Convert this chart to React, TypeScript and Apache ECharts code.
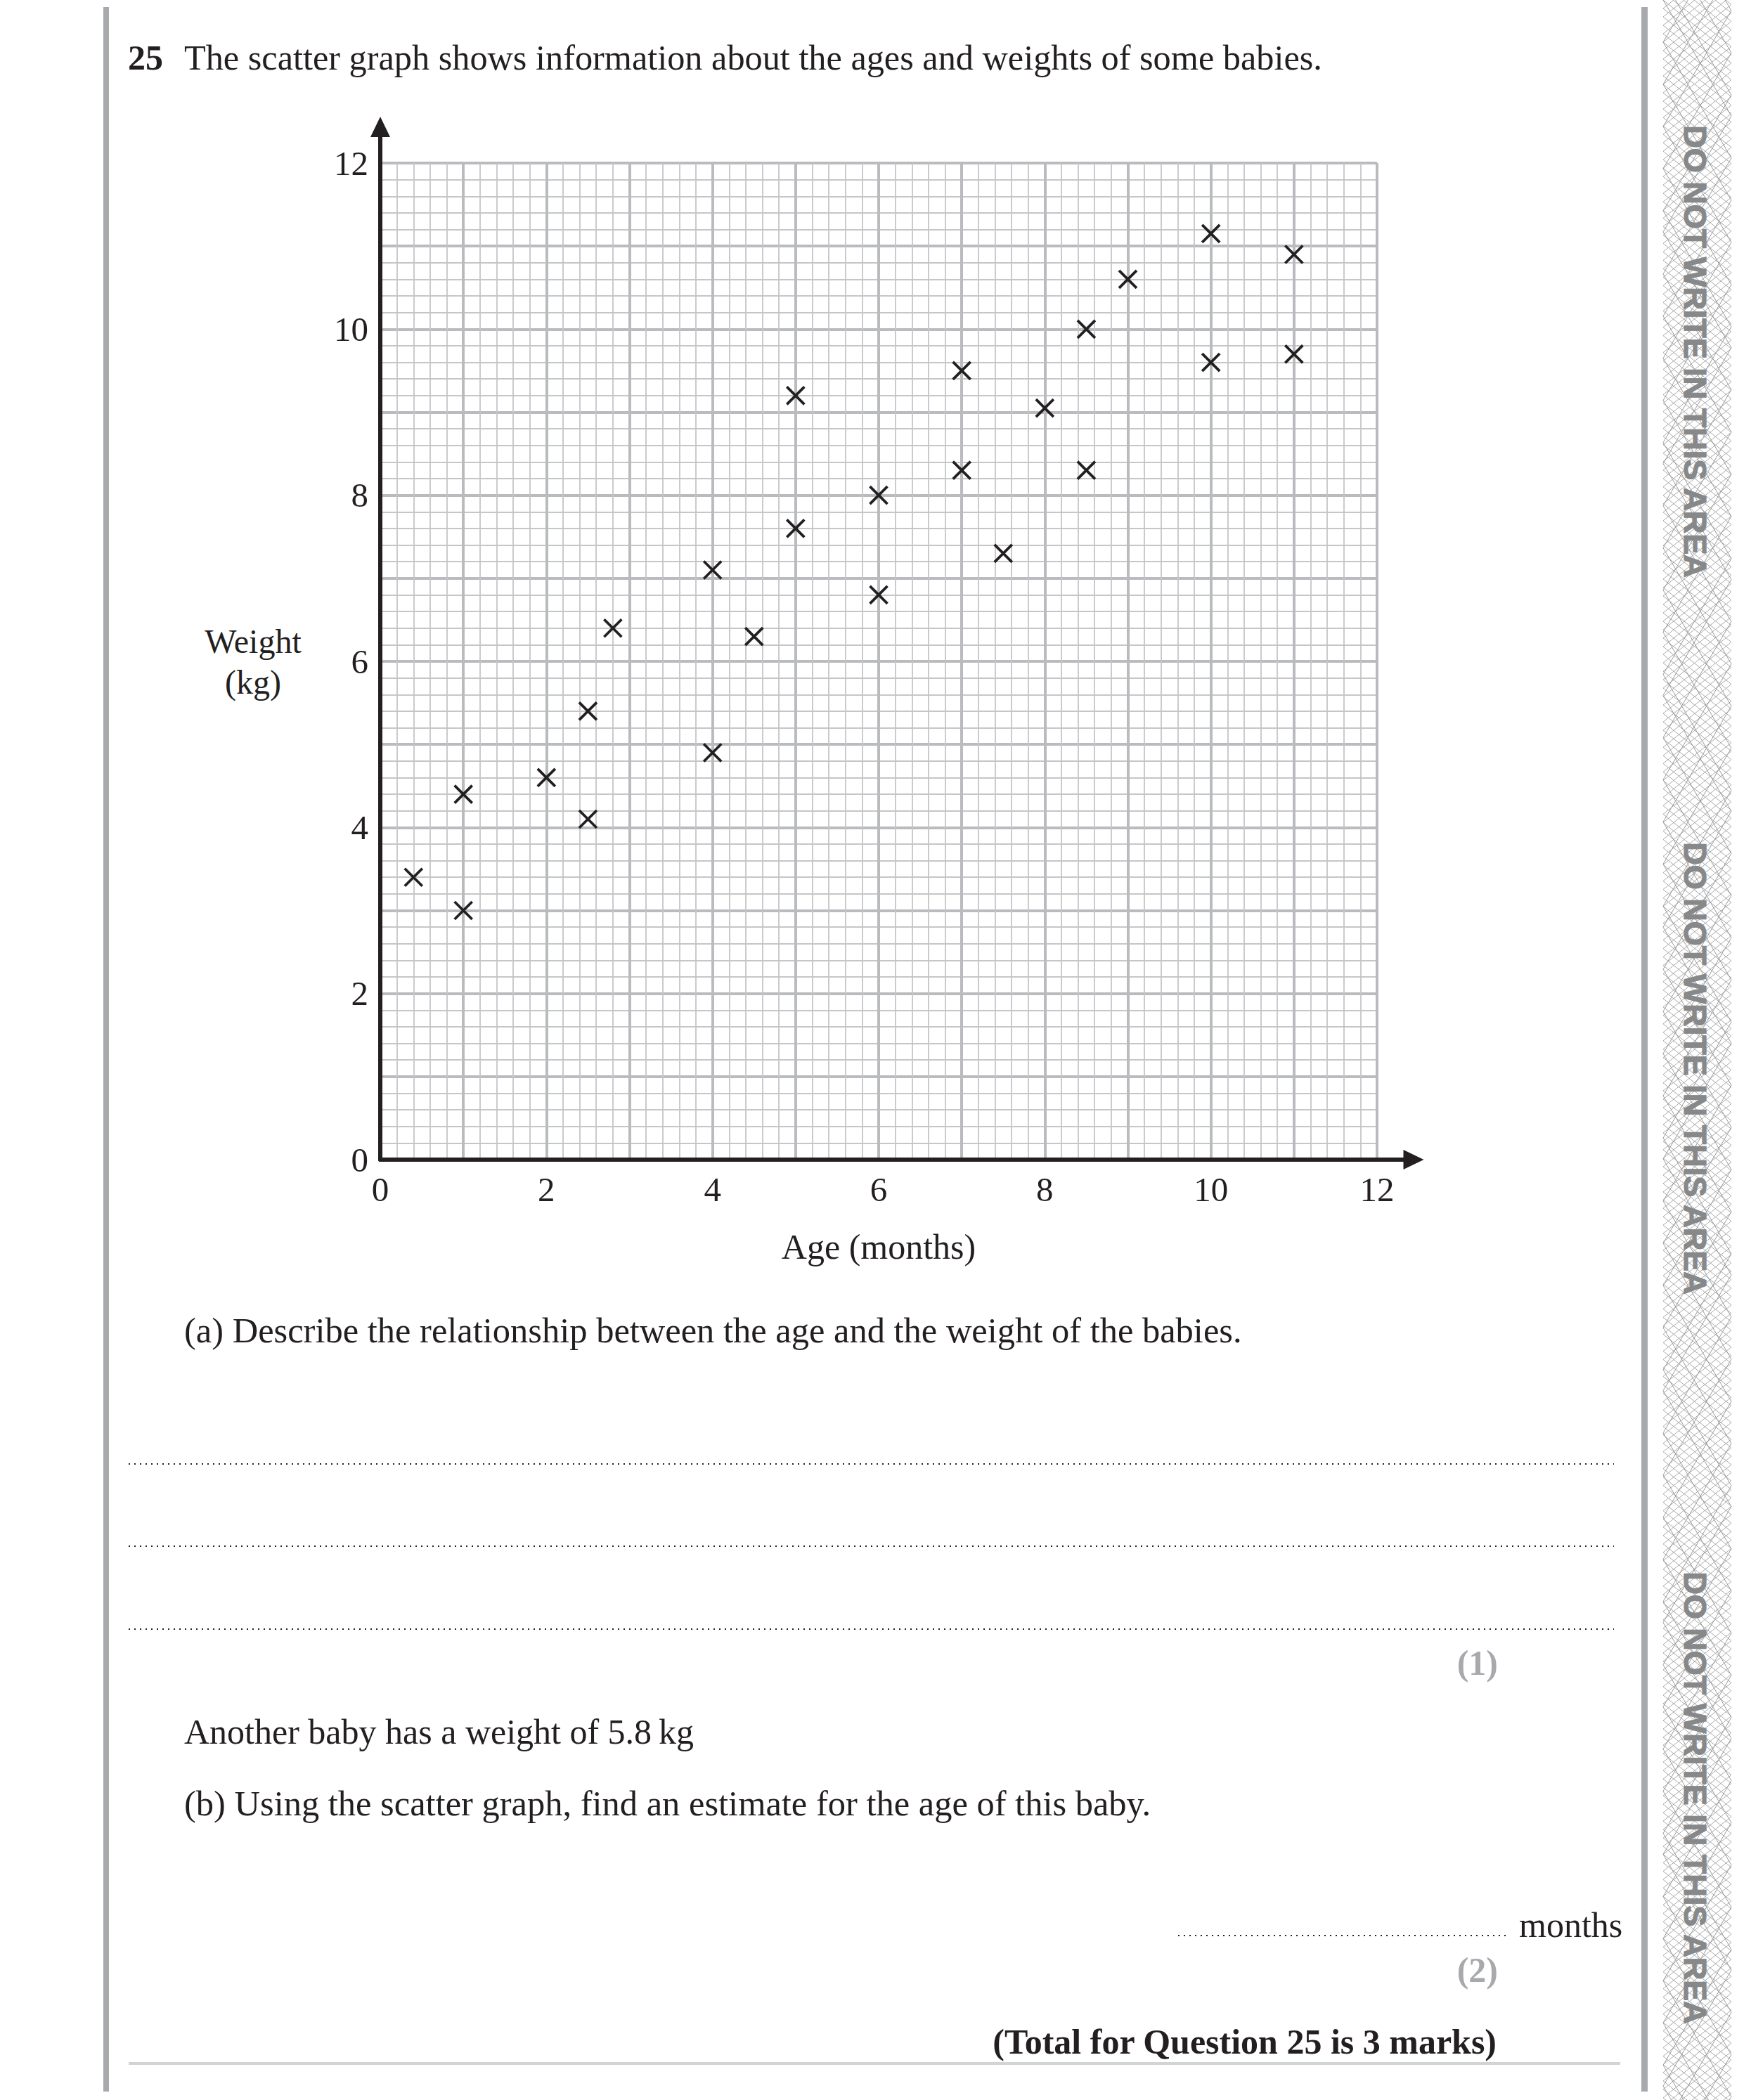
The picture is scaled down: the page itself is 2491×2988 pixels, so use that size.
import React, { useEffect, useRef } from "react";
import * as echarts from "echarts";

// ---------- data ----------
const ages = [0.4, 1, 1, 2, 2.5, 2.5, 2.8, 4, 4, 4.5, 5, 5, 6, 6, 7, 7, 7.5, 8, 8.5, 8.5, 9, 10, 10, 11, 11];
const weights = [3.4, 4.4, 3.0, 4.6, 5.4, 4.1, 6.4, 7.1, 4.9, 6.3, 9.2, 7.6, 8.0, 6.8, 9.5, 8.3, 7.3, 9.05, 10.0, 8.3, 10.6, 11.15, 9.6, 10.9, 9.7];
const xTickLabels = [0, 2, 4, 6, 8, 10, 12];
const yTickLabels = [0, 2, 4, 6, 8, 10, 12];

const xAxisName = "Age (months)";
const yAxisName = "Weight\n(kg)";
const questionNumber = "25";
const questionText = "The scatter graph shows information about the ages and weights of some babies.";
const partAText = "(a) Describe the relationship between the age and the weight of the babies.";
const mark1 = "(1)";
const anotherText = "Another baby has a weight of 5.8\u2009kg";
const partBText = "(b) Using the scatter graph, find an estimate for the age of this baby.";
const unitText = "months";
const mark2 = "(2)";
const totalText = "(Total for Question 25 is 3 marks)";
const marginText = "DO NOT WRITE IN THIS AREA";

const INK = "#231f20";
const SERIF = "'Liberation Serif', 'Times New Roman', serif";

function hatch(x0: number, x1: number, slope: number, spacing: number, color: string, width: number) {
  const W = x1 - x0;
  const h = W * slope;
  const out: any[] = [];
  for (let y0 = -2 * h; y0 < 0; y0 += spacing) {
    const pts: number[][] = [];
    let y = y0;
    let left = true;
    while (y < 3000 + 2 * h) {
      pts.push([left ? x0 : x1, y]);
      y += h;
      left = !left;
    }
    out.push({ type: "polyline", silent: true, shape: { points: pts }, style: { stroke: color, lineWidth: width, fill: null } });
  }
  return out;
}

function txt(text: string, x: number, y: number, opts: any = {}) {
  const align = opts.align || "left";
  return {
    type: "text",
    x,
    y,
    rotation: opts.rotation || 0,
    silent: true,
    style: {
      text,
      fill: opts.fill || INK,
      stroke: opts.stroke,
      lineWidth: opts.lineWidth || 0,
      fontFamily: opts.fontFamily || SERIF,
      fontSize: opts.fontSize || 50,
      fontWeight: opts.fontWeight || "normal",
      align,
      textAlign: align,
      verticalAlign: "middle",
      textVerticalAlign: "middle",
    },
  };
}

function dotted(x1: number, x2: number, y: number) {
  return {
    type: "line",
    silent: true,
    shape: { x1, y1: y, x2, y2: y },
    style: { stroke: INK, lineWidth: 2, lineDash: [2, 6] },
  };
}

const arrowY = "path://M14,0 L28,29 L17,29 L17,66 L11,66 L11,29 L0,29 Z";

const marginStyle = {
  rotation: -Math.PI / 2,
  align: "center",
  fill: "#868889",
  stroke: "#868889",
  lineWidth: 1.2,
  fontFamily: "'Liberation Sans', Arial, sans-serif",
  fontWeight: "bold",
  fontSize: 45,
};

export default function App() {
  const ref = useRef<HTMLDivElement>(null);
  useEffect(() => {
    if (!ref.current) return;
    const chart = echarts.init(ref.current, null, { renderer: "svg" });
    const data = ages.map((a, i) => [a, weights[i]]);

    const graphics: any[] = [
      { type: "rect", silent: true, shape: { x: 147, y: 10, width: 8, height: 2966 }, style: { fill: "#a7a9ac" } },
      { type: "rect", silent: true, shape: { x: 2335, y: 10, width: 9, height: 2966 }, style: { fill: "#a7a9ac" } },
      ...hatch(2366, 2463, 0.8, 12, "#a9a9a9", 1),
      ...hatch(2366, 2463, 1.7, 60, "#9a9a9a", 1),
      txt(marginText, 2411, 500, marginStyle),
      txt(marginText, 2411, 1520, marginStyle),
      txt(marginText, 2411, 2558, marginStyle),
      txt(questionNumber, 182, 82, { fontWeight: "bold" }),
      txt(questionText, 262, 82, { fontSize: 50.3 }),
      txt(partAText, 262, 1893, { fontSize: 50.5 }),
      dotted(183, 2296, 2083),
      dotted(183, 2296, 2200),
      dotted(183, 2296, 2318),
      txt(mark1, 2131, 2366, { align: "right", fontWeight: "bold", fill: "#a7a9ac" }),
      txt(anotherText, 262, 2464),
      txt(partBText, 262, 2566, { fontSize: 50.5 }),
      dotted(1676, 2143, 2754),
      txt(unitText, 2161, 2739),
      txt(mark2, 2131, 2803, { align: "right", fontWeight: "bold", fill: "#a7a9ac" }),
      txt(totalText, 2129, 2905, { align: "right", fontWeight: "bold" }),
      { type: "rect", silent: true, shape: { x: 183, y: 2934, width: 2122, height: 4 }, style: { fill: "#d1d3d4" } },
    ];

    const common = {
      type: "value",
      min: 0,
      max: 12,
      interval: 1,
      axisTick: { show: false },
      minorTick: { show: false, splitNumber: 5 },
      splitLine: { show: true, showMinLine: false, lineStyle: { color: "#b9bbbe", width: 4 } },
      minorSplitLine: { show: true, lineStyle: { color: "#c4c6c8", width: 1.8 } },
    };

    chart.setOption({
      animation: false,
      backgroundColor: "#ffffff",
      grid: { left: 541, top: 232, width: 1418, height: 1418, containLabel: false, outerBoundsMode: "none" },
      xAxis: {
        ...common,
        name: xAxisName,
        nameLocation: "middle",
        nameGap: 124,
        nameTextStyle: { fontFamily: SERIF, fontSize: 50, color: INK, verticalAlign: "middle", align: "center" },
        axisLine: {
          show: true,
          onZero: false,
          lineStyle: { color: INK, width: 6 },
          symbol: ["none", arrowY],
          symbolSize: [28, 67],
          symbolOffset: [0, 33.5],
        },
        axisLabel: {
          margin: 42,
          verticalAlign: "middle",
          fontFamily: SERIF,
          fontSize: 49,
          color: INK,
          formatter: (v: number) => (xTickLabels.includes(v) ? String(v) : ""),
        },
      },
      yAxis: {
        ...common,
        name: yAxisName,
        nameLocation: "middle",
        nameGap: 181,
        nameRotate: 0,
        nameTextStyle: { fontFamily: SERIF, fontSize: 48, lineHeight: 58, color: INK, align: "center", verticalAlign: "middle" },
        axisLine: {
          show: true,
          onZero: false,
          lineStyle: { color: INK, width: 6 },
          symbol: ["none", arrowY],
          symbolSize: [28, 66],
          symbolOffset: [0, 33],
        },
        axisLabel: {
          margin: 17,
          fontFamily: SERIF,
          fontSize: 49,
          color: INK,
          formatter: (v: number) => (yTickLabels.includes(v) ? String(v) : ""),
        },
      },
      series: [
        {
          type: "scatter",
          data,
          symbol: "path://M0,0L10,10M10,0L0,10",
          symbolSize: 25,
          itemStyle: { color: "rgba(0,0,0,0)", borderColor: INK, borderWidth: 3.8, opacity: 1 },
          z: 5,
        },
      ],
      graphic: graphics,
    });
    return () => chart.dispose();
  }, []);
  return <div ref={ref} style={{ position: "absolute", left: 0, top: 0, width: 2491, height: 2988 }} />;
}
